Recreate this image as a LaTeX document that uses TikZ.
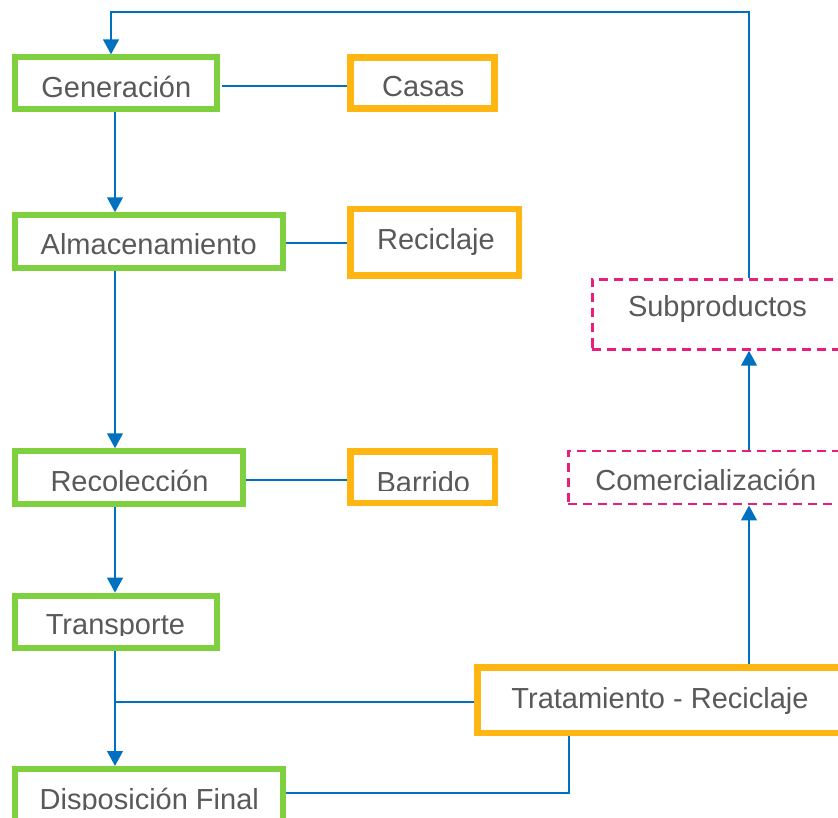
\documentclass[tikz,border=0pt]{standalone}
\usepackage{fontspec}
\setmainfont{Liberation Sans}
\usetikzlibrary{arrows.meta}
\definecolor{gr}{RGB}{126,208,62}
\definecolor{og}{RGB}{255,182,18}
\definecolor{pk}{RGB}{233,30,124}
\definecolor{bl}{RGB}{0,112,192}
\definecolor{tx}{RGB}{89,89,89}
\begin{document}
\begin{tikzpicture}[x=1pt,y=-1pt,
  gbox/.style={draw=gr,line width=6pt,fill=white,inner sep=0pt},
  obox/.style={draw=og,line width=6.5pt,fill=white,inner sep=0pt},
  pbox/.style={draw=pk,line width=2.8pt,dash pattern=on 9pt off 6pt,fill=white,inner sep=0pt},
  lbl/.style={text=tx,font=\fontsize{29}{34}\selectfont,anchor=base,inner sep=0pt},
  arr/.style={draw=bl,line width=2.6pt,-{Triangle[length=15pt,width=15.5pt]}},
  con/.style={draw=bl,line width=2pt}]
\useasboundingbox (0,0) rectangle (838,818);
\clip (0,0) rectangle (838,818);
% boxes
\node[gbox,minimum width=202pt,minimum height=52pt] (gen) at (116,83.4) {};
\node[obox,minimum width=143.9pt,minimum height=51.2pt] (cas) at (422.5,82.9) {};
\node[gbox,minimum width=267.7pt,minimum height=52.4pt] (alm) at (149.2,241.5) {};
\node[obox,minimum width=168.3pt,minimum height=66.3pt] (rcl) at (434.8,242.3) {};
\node[gbox,minimum width=227.7pt,minimum height=52.4pt] (rco) at (129.2,477.5) {};
\node[obox,minimum width=144.5pt,minimum height=51.2pt] (bar) at (422.8,477.2) {};
\node[gbox,minimum width=201.7pt,minimum height=52pt] (tra) at (116.2,621.7) {};
\node[gbox,minimum width=267.4pt,minimum height=52pt] (dis) at (149,795) {};
\node[obox,minimum width=365pt,minimum height=65.5pt] (tr) at (660,700.2) {};
\node[pbox,minimum width=250.4pt,minimum height=70pt] (sub) at (717.5,314.3) {};
\node[pbox,minimum width=275pt,minimum height=53pt] (com) at (705.8,477.5) {};
% labels
\node[lbl] (tgen) at (116.3,97.3) {Generación};
\node[lbl] (tcas) at (423.3,96.5) {Casas};
\node[lbl] (talm) at (148.7,254.5) {Almacenamiento};
\node[lbl] (trcl) at (436,250) {Reciclaje};
\node[lbl] (tsub) at (717.5,316.7) {Subproductos};
\node[lbl] (tcom) at (705.8,490) {Comercialización};
\node[lbl] (ttr) at (660,708.3) {Tratamiento - Reciclaje};
\begin{scope}
  \clip (0,0) rectangle (838,490.8);
  \node[lbl] (trco) at (129.5,491.5) {Recolección};
  \node[lbl] (tbar) at (423.3,492.3) {Barrido};
\end{scope}
\begin{scope}
  \clip (0,0) rectangle (838,635);
  \node[lbl] (ttra) at (115.4,634.8) {Transporte};
\end{scope}
\begin{scope}
  \clip (0,0) rectangle (838,809.5);
  \node[lbl] (tdis) at (149.3,809.3) {Disposición Final};
\end{scope}
% helper coordinates
\coordinate (colX) at (115,0);
\coordinate (loopR) at (749,12);
\coordinate (loopL) at (111,12);
\coordinate (bend) at (569,793);
\coordinate (y1) at (0,86);
\coordinate (y2) at (0,243);
\coordinate (y3) at (0,480);
\coordinate (y4) at (0,702);
% thin connectors
\draw[con] ([xshift=2pt]gen.east |- y1) -- (cas.west |- y1);
\draw[con] (alm.east |- y2) -- (rcl.west |- y2);
\draw[con] (rco.east |- y3) -- (bar.west |- y3);
\draw[con] (tr.west |- y4) -- (colX |- y4);
\draw[con] (tr.south -| bend) -- (bend) -- (dis.east |- bend);
% arrows
\draw[arr] (gen.south -| colX) -- (alm.north -| colX);
\draw[arr] (alm.south -| colX) -- (rco.north -| colX);
\draw[arr] (rco.south -| colX) -- (tra.north -| colX);
\draw[arr] (tra.south -| colX) -- (dis.north -| colX);
\draw[arr] (tr.north -| loopR) -- (com.south -| loopR);
\draw[arr] (com.north -| loopR) -- (sub.south -| loopR);
\draw[arr] (sub.north -| loopR) -- (loopR) -- (loopL) -- (gen.north -| loopL);
\end{tikzpicture}
\end{document}
